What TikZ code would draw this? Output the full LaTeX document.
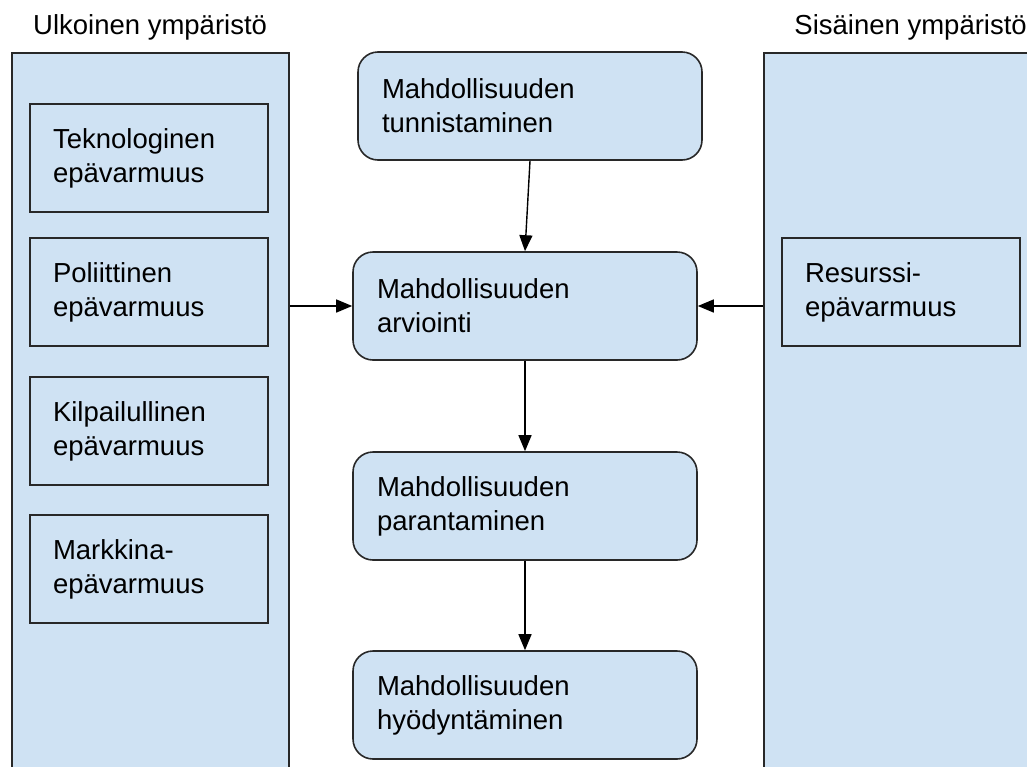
\documentclass[tikz,border=0pt]{standalone}
\usepackage{fontspec}
\setmainfont{Liberation Sans}
\usetikzlibrary{arrows.meta}
\definecolor{boxblue}{RGB}{207,226,243}
\definecolor{edge}{RGB}{40,40,40}
\begin{document}
\begin{tikzpicture}[x=1pt,y=-1pt,
  lbl/.style={font=\fontsize{27.5}{34}\selectfont, inner sep=0pt},
  envbox/.style={draw=edge, fill=boxblue, line width=1.6pt, minimum width=277pt, minimum height=760pt, anchor=north west, inner sep=0pt},
  sqbox/.style={draw=edge, fill=boxblue, line width=1.6pt, minimum width=238pt, minimum height=108pt, text width=192pt, inner xsep=23pt, inner ysep=0pt, align=left, font=\fontsize{27.5}{34}\selectfont},
  rbox/.style={draw=edge, fill=boxblue, line width=1.6pt, rounded corners=20pt, minimum width=344pt, minimum height=108pt, text width=296pt, inner xsep=24pt, inner ysep=0pt, align=left, font=\fontsize{27.5}{34}\selectfont},
  conn/.style={draw=black, line width=1.4pt, -{Triangle[length=16pt,width=13pt]}}
]
\useasboundingbox (0,0) rectangle (1027,766);
\fill[white] (0,0) rectangle (1027,766);

\node[lbl, anchor=west] (tl) at (33,27) {Ulkoinen ympäristö};
\node[lbl, anchor=east] (tr) at (1027,27) {Sisäinen ympäristö};

\node[envbox] (outer) at (11,52) {};
\node[envbox] (inner) at (763,52) {};

\node[sqbox] (t1) at (149,158) {Teknologinen\\epävarmuus};
\node[sqbox] (t2) at (149,292) {Poliittinen\\epävarmuus};
\node[sqbox] (t3) at (149,431) {Kilpailullinen\\epävarmuus};
\node[sqbox] (t4) at (149,569) {Markkina-\\epävarmuus};
\node[sqbox] (r1) at (901,292) {Resurssi-\\epävarmuus};

\node[rbox] (b1) at (530,106) {Mahdollisuuden\\tunnistaminen};
\node[rbox] (b2) at (525,306) {Mahdollisuuden\\arviointi};
\node[rbox] (b3) at (525,506) {Mahdollisuuden\\parantaminen};
\node[rbox] (b4) at (525,705) {Mahdollisuuden\\hyödyntäminen};

\draw[conn] (b1.south) -- (b2.north);
\draw[conn] (b2.south) -- (b3.north);
\draw[conn] (b3.south) -- (b4.north);
\draw[conn] (outer.east |- b2.west) -- (b2.west);
\draw[conn] (inner.west |- b2.east) -- (b2.east);
\end{tikzpicture}
\end{document}
